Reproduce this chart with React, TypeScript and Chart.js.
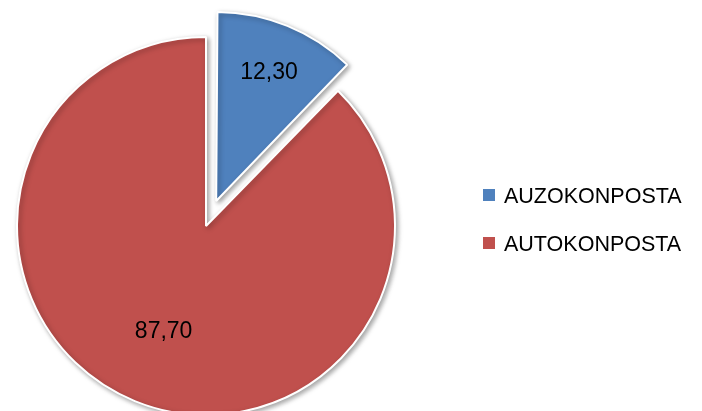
import React, { useEffect, useRef } from "react";
import { Chart, registerables } from "chart.js";

Chart.register(...registerables);

const categories = ["AUZOKONPOSTA", "AUTOKONPOSTA"];
const values = [12.3, 87.7];
const valueLabels = ["12,30", "87,70"];
const colors = ["#4F81BD", "#C0504D"];
const sliceOffsets = [108, 0];

const FONT = "'Liberation Sans', Arial, sans-serif";

export default function App() {
  const ref = useRef<HTMLCanvasElement>(null);

  useEffect(() => {
    const canvas = ref.current;
    if (!canvas) return;

    const radiusFix = {
      id: "radiusFix",
      afterDatasetsUpdate(chart: any) {
        const meta = chart.getDatasetMeta(0);
        meta.data.forEach((arc: any) => {
          const o = ((arc.options && arc.options.offset) || 0) / 4;
          const circ = arc.circumference;
          const fix = 1 - Math.sin(Math.min(Math.PI, circ || 0));
          arc.outerRadius = arc.outerRadius - o * fix;
        });
      },
    };

    const shadow = {
      id: "pieShadow",
      beforeDatasetsDraw(chart: any) {
        const ctx = chart.ctx;
        ctx.save();
        ctx.shadowColor = "rgba(0,0,0,0.35)";
        ctx.shadowBlur = 5;
        ctx.shadowOffsetX = 2;
        ctx.shadowOffsetY = 2;
      },
      afterDatasetsDraw(chart: any) {
        chart.ctx.restore();
      },
    };

    const sliceLabels = {
      id: "sliceLabels",
      afterDatasetsDraw(chart: any, _args: any, opts: any) {
        const ctx = chart.ctx;
        const meta = chart.getDatasetMeta(0);
        const fr: number[] = opts.fractions || [];
        ctx.save();
        ctx.font = `23px ${FONT}`;
        ctx.fillStyle = "#000";
        ctx.textAlign = "center";
        ctx.textBaseline = "middle";
        meta.data.forEach((arc: any, i: number) => {
          const mid = (arc.startAngle + arc.endAngle) / 2;
          const t = ((arc.options && arc.options.offset) || 0) / 4;
          const d = t + (fr[i] ?? 0.6) * arc.outerRadius;
          const x = arc.x + Math.cos(mid) * d;
          const y = arc.y + Math.sin(mid) * d;
          ctx.fillText(valueLabels[i], x, y + 1);
        });
        ctx.restore();
      },
    };

    const sideLegend = {
      id: "sideLegend",
      afterDraw(chart: any, _args: any, opts: any) {
        const ctx = chart.ctx;
        const labels = chart.data.labels as string[];
        const bg = chart.data.datasets[0].backgroundColor as string[];
        ctx.save();
        ctx.font = `21.5px ${FONT}`;
        ctx.textAlign = "left";
        ctx.textBaseline = "alphabetic";
        labels.forEach((lab, i) => {
          const cy = opts.y + i * opts.gap;
          ctx.fillStyle = bg[i];
          ctx.fillRect(opts.x, cy - 6, 12, 12);
          ctx.fillStyle = "#000";
          ctx.fillText(lab, opts.x + 21, cy + 7.5);
        });
        ctx.restore();
      },
    };

    const chart = new Chart(canvas, {
      type: "pie",
      data: {
        labels: categories,
        datasets: [
          {
            data: values,
            backgroundColor: colors,
            borderColor: "#ffffff",
            borderWidth: 2,
            offset: sliceOffsets,
            clip: false,
          } as any,
        ],
      },
      options: {
        animation: false,
        responsive: false,
        radius: 189,
        layout: { padding: { left: 0, right: 290, top: 41, bottom: 0 } },
        plugins: {
          legend: { display: false },
          tooltip: { enabled: false },
          sliceLabels: { fractions: [0.775, 0.595] },
          sideLegend: { x: 483, y: 195, gap: 48 },
        } as any,
      } as any,
      plugins: [radiusFix, shadow, sliceLabels, sideLegend],
    });

    return () => chart.destroy();
  }, []);

  return (
    <div style={{ position: "fixed", left: 0, top: 0, width: 702, height: 411, background: "#fff" }}>
      <canvas ref={ref} width={702} height={411} style={{ display: "block" }} />
    </div>
  );
}
